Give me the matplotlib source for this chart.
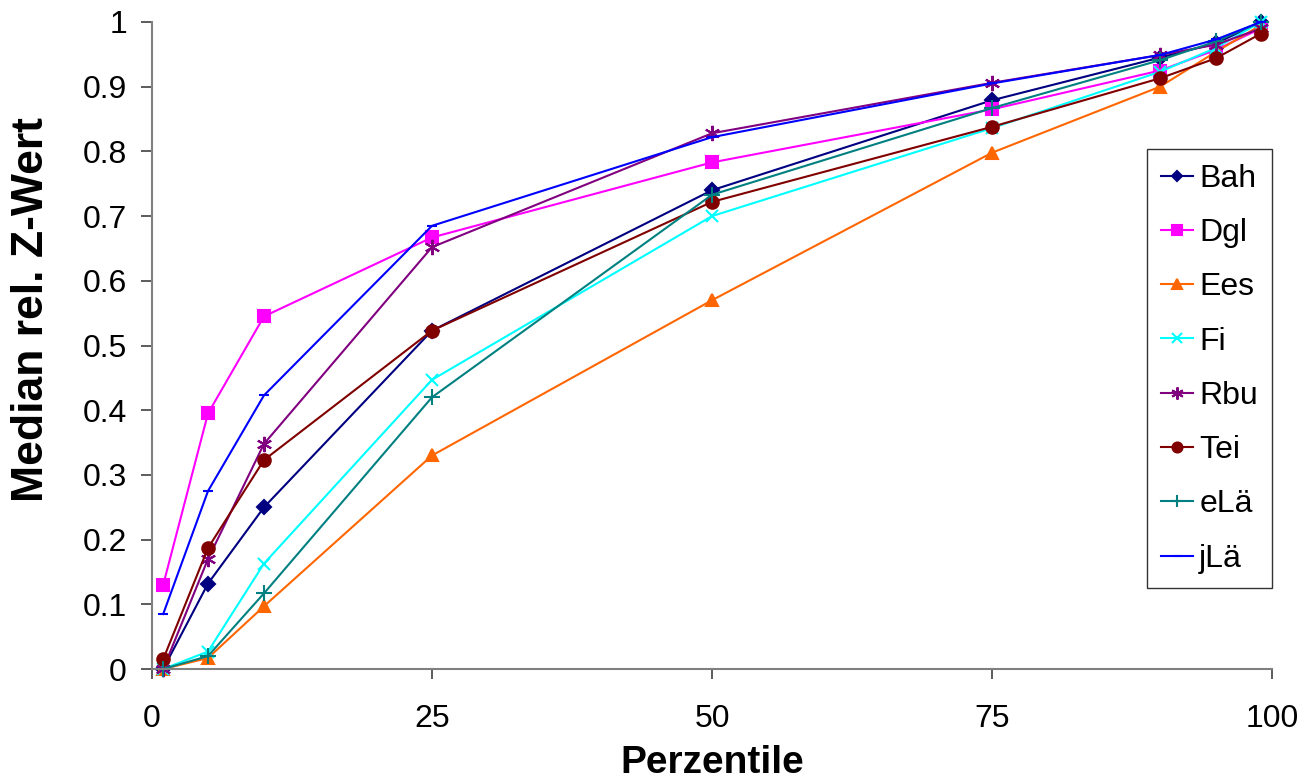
import numpy as np
import matplotlib
matplotlib.use("Agg")
import matplotlib.pyplot as plt

plt.rcParams['font.family'] = ['Liberation Sans', 'DejaVu Sans']

perzentile = [1, 5, 10, 25, 50, 75, 90, 95, 99]

bah = [0.0, 0.132, 0.25, 0.523, 0.74, 0.879, 0.945, 0.967, 1.0]
dgl = [0.13, 0.395, 0.545, 0.667, 0.783, 0.865, 0.925, 0.957, 0.99]
ees = [0.0, 0.017, 0.097, 0.33, 0.57, 0.798, 0.9, 0.954, 0.995]
fi = [0.0, 0.027, 0.163, 0.447, 0.7, 0.836, 0.923, 0.96, 1.0]
rbu = [0.0, 0.17, 0.348, 0.652, 0.828, 0.906, 0.949, 0.965, 0.99]
tei = [0.015, 0.187, 0.323, 0.523, 0.722, 0.838, 0.913, 0.944, 0.982]
elae = [0.0, 0.02, 0.117, 0.42, 0.733, 0.867, 0.941, 0.97, 1.0]
jlae = [0.085, 0.275, 0.423, 0.685, 0.822, 0.905, 0.949, 0.973, 1.0]

series = [
    ('Bah', bah, '#000080', 'D', 7),
    ('Dgl', dgl, '#FF00FF', 's', 9),
    ('Ees', ees, '#FF6600', '^', 9),
    ('Fi', fi, '#00FFFF', 'x', 9),
    ('Rbu', rbu, '#800080', (6, 2, 0), 11),
    ('Tei', tei, '#800000', 'o', 9),
    ('eLä', elae, '#008080', '+', 11),
    ('jLä', jlae, '#0000FF', '_', 7),
]

fig = plt.figure(figsize=(13.08, 7.8), dpi=100)
ax = fig.add_axes([0.1162, 0.1423, 0.8563, 0.8295])

for name, vals, col, mk, ms in series:
    ax.plot(perzentile, vals, color=col, marker=mk, markersize=ms,
            linewidth=1.5, markeredgewidth=1.5, label=name, clip_on=False)

ax.set_xlim(0, 100)
ax.set_ylim(0, 1)
ax.set_xticks([0, 25, 50, 75, 100])
ax.set_yticks(np.arange(0, 1.01, 0.1))
ax.set_yticklabels(['0', '0.1', '0.2', '0.3', '0.4', '0.5', '0.6', '0.7', '0.8', '0.9', '1'])
ax.tick_params(labelsize=23, direction='out', width=1.2, color='#404040', labelcolor='black')
ax.tick_params(axis='y', length=8, pad=10)
ax.tick_params(axis='x', length=7, pad=18)

for s in ['top', 'right']:
    ax.spines[s].set_visible(False)
for s in ['left', 'bottom']:
    ax.spines[s].set_color('#808080')
    ax.spines[s].set_linewidth(1.5)

ax.set_xlabel('Perzentile', fontsize=28, fontweight='bold', labelpad=8)
ax.set_ylabel('Median rel. Z-Wert', fontsize=32, fontweight='bold')
ax.yaxis.set_label_coords(-0.0893, 0.555)

leg = ax.legend(loc='center left', bbox_to_anchor=(0.888, 0.464), fontsize=23,
                frameon=True, fancybox=False, edgecolor='black',
                labelspacing=0.76, handlelength=1.0, handletextpad=0.2,
                borderpad=0.45, borderaxespad=0, markerscale=0.8)
leg.get_frame().set_linewidth(1.0)

fig.savefig('out.png', dpi=100)
